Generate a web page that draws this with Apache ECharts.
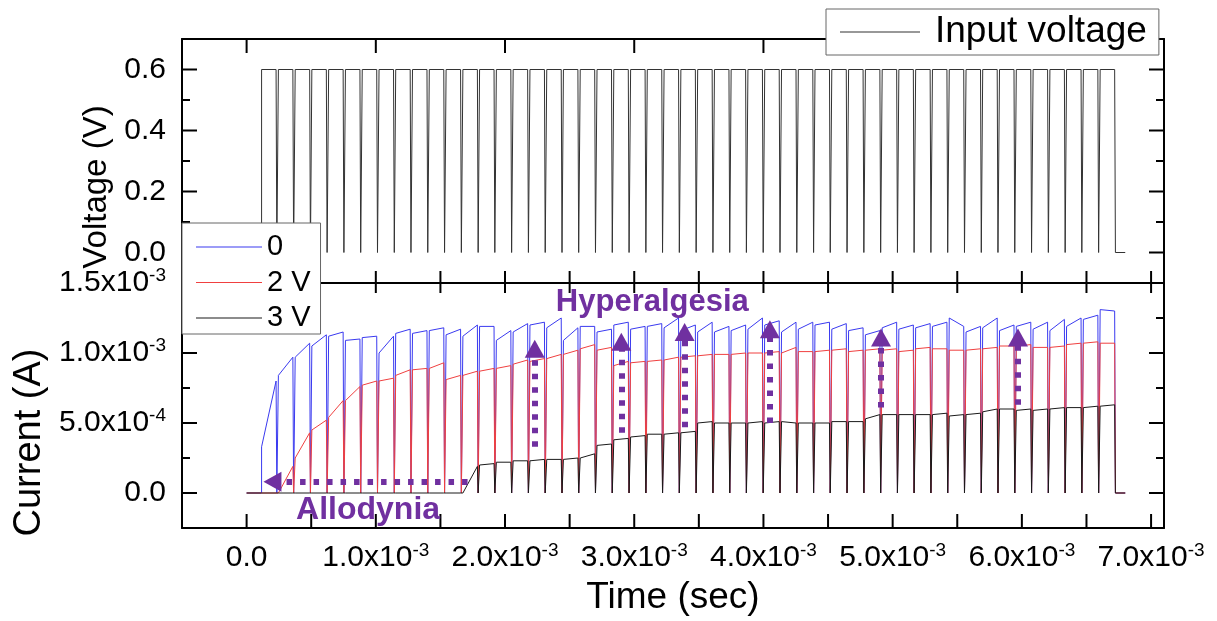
<!DOCTYPE html>
<html>
<head>
<meta charset="utf-8">
<script src="https://cdn.jsdelivr.net/npm/echarts@6/dist/echarts.min.js"></script>
<style>
  html, body { margin: 0; padding: 0; background: #fff; }
  #chart { width: 1217px; height: 621px; }
</style>
</head>
<body>
<div id="chart"></div>
<script>
// ---- Pulse train timing (ms) ----
const pulseOnsetMs = [
  0.116, 0.246, 0.376, 0.505, 0.635, 0.765, 0.895, 1.025, 1.154, 1.284,
  1.414, 1.544, 1.674, 1.803, 1.933, 2.063, 2.193, 2.323, 2.452, 2.582,
  2.712, 2.842, 2.972, 3.101, 3.231, 3.361, 3.491, 3.621, 3.750, 3.880,
  4.010, 4.140, 4.270, 4.399, 4.529, 4.659, 4.789, 4.919, 5.048, 5.178,
  5.308, 5.438, 5.568, 5.697, 5.827, 5.957, 6.087, 6.217, 6.346, 6.476,
  6.606
];
const pulseWidthMs = 0.112;   // high part of each pulse
const fallMs = 0.006;         // falling edge duration
const traceEndMs = 6.80;      // recording end
const inputVoltage = 0.6;     // V, pulse amplitude

// ---- Current level at the start / end of every pulse (mA) ----
const current0Start = [
  0.33, 0.84, 0.97, 1.05, 1.12, 1.09, 1.11, 1.00, 1.14, 1.14,
  1.16, 1.13, 1.12, 1.19, 1.09, 1.15, 1.20, 1.18, 1.09, 1.19,
  1.15, 1.20, 1.17, 1.19, 1.18, 1.16, 1.15, 1.15, 1.16, 1.17,
  1.20, 1.15, 1.17, 1.20, 1.17, 1.16, 1.13, 1.18, 1.17, 1.18,
  1.19, 1.25, 1.15, 1.18, 1.16, 1.19, 1.17, 1.16, 1.19, 1.24,
  1.31
];
const current0End = [
  0.80, 0.97, 1.07, 1.13, 1.15, 1.10, 1.12, 1.12, 1.17, 1.16,
  1.18, 1.17, 1.20, 1.19, 1.16, 1.21, 1.22, 1.25, 1.18, 1.19,
  1.17, 1.22, 1.19, 1.21, 1.25, 1.20, 1.22, 1.19, 1.20, 1.25,
  1.23, 1.22, 1.22, 1.22, 1.21, 1.18, 1.16, 1.22, 1.20, 1.21,
  1.22, 1.19, 1.19, 1.25, 1.20, 1.22, 1.22, 1.24, 1.25, 1.27,
  1.30
];
const current2VStart = [
  0.00, 0.00, 0.25, 0.45, 0.54, 0.66, 0.77, 0.80, 0.84, 0.88,
  0.89, 0.81, 0.84, 0.87, 0.89, 0.92, 0.94, 0.96, 0.99, 1.03,
  1.02, 0.91, 0.93, 0.94, 0.95, 0.97, 0.98, 0.99, 0.99, 1.00,
  1.00, 1.00, 1.01, 1.01, 1.02, 1.01, 1.02, 1.02, 1.01, 1.03,
  1.03, 1.02, 1.02, 1.03, 1.05, 1.05, 1.04, 1.04, 1.06, 1.07,
  1.07
];
const current2VEnd = [
  0.00, 0.19, 0.43, 0.52, 0.66, 0.76, 0.80, 0.82, 0.88, 0.89,
  0.93, 0.84, 0.87, 0.89, 0.91, 0.95, 0.96, 0.99, 1.02, 1.06,
  1.04, 0.94, 0.94, 0.95, 0.97, 0.98, 0.99, 0.99, 1.00, 1.00,
  1.01, 1.04, 1.01, 1.02, 1.03, 1.02, 1.03, 1.03, 1.02, 1.04,
  1.03, 1.02, 1.03, 1.04, 1.05, 1.06, 1.04, 1.05, 1.07, 1.08,
  1.07
];
const current3VStart = [
  0.00, 0.00, 0.00, 0.00, 0.00, 0.00, 0.00, 0.00, 0.00, 0.00,
  0.00, 0.00, 0.00, 0.20, 0.22, 0.23, 0.23, 0.24, 0.24, 0.25,
  0.34, 0.38, 0.40, 0.42, 0.42, 0.43, 0.50, 0.50, 0.50, 0.50,
  0.50, 0.51, 0.50, 0.50, 0.51, 0.51, 0.53, 0.56, 0.56, 0.56,
  0.56, 0.55, 0.56, 0.58, 0.60, 0.59, 0.59, 0.60, 0.61, 0.61,
  0.62
];
const current3VEnd = [
  0.00, 0.00, 0.00, 0.00, 0.00, 0.00, 0.00, 0.00, 0.00, 0.00,
  0.00, 0.00, 0.19, 0.21, 0.22, 0.23, 0.24, 0.24, 0.25, 0.28,
  0.35, 0.39, 0.41, 0.42, 0.43, 0.44, 0.51, 0.50, 0.50, 0.51,
  0.51, 0.50, 0.50, 0.50, 0.51, 0.51, 0.56, 0.56, 0.56, 0.56,
  0.57, 0.56, 0.57, 0.60, 0.60, 0.60, 0.60, 0.61, 0.61, 0.62,
  0.63
];

// ---- Annotations ----
const hyperArrowMs = [2.23, 2.90, 3.39, 4.05, 4.91, 5.97];
const hyperArrowFromMA = [0.33, 0.43, 0.47, 0.50, 0.61, 0.63];
const hyperArrowToMA = [1.03, 1.08, 1.15, 1.17, 1.11, 1.11];
const allodyniaArrowMs = [1.71, 0.20];
const allodyniaArrowMA = 0.08;
const noteText = ['Hyperalgesia', 'Allodynia'];
const noteAtMs = [3.14, 0.94];
const noteAtMA = [1.36, -0.12];

// ---- Axis ticks ----
const timeMajorMs = [0, 1, 2, 3, 4, 5, 6, 7];
const timeAllMs = [0, 0.5, 1, 1.5, 2, 2.5, 3, 3.5, 4, 4.5, 5, 5.5, 6, 6.5, 7];
const voltMajor = [0, 0.2, 0.4, 0.6];
const voltMinor = [0.1, 0.3, 0.5];
const currMajorMA = [0, 0.5, 1.0, 1.5];
const currMinorMA = [0.25, 0.75, 1.25];

const FONT = 'Liberation Sans, Arial, Helvetica, sans-serif';
const PURPLE = '#7030A0';
const ms = v => v * 1e-3;
const mA = v => v * 1e-3;

// Square-pulse trace: level rises at onset, follows start->end, then falls to zero.
function pulseTrace(startLevels, endLevels, toUnit) {
  const pts = [[0, 0]];
  pulseOnsetMs.forEach((t, i) => {
    const a = toUnit(startLevels[i]);
    const b = toUnit(endLevels[i]);
    pts.push([ms(t), 0], [ms(t), a], [ms(t + pulseWidthMs), b], [ms(t + pulseWidthMs + fallMs), 0]);
  });
  pts.push([ms(traceEndMs), 0]);
  return pts;
}

function sciLabel(v) {
  if (Math.abs(v) < 1e-12) return '{m|0.0}';
  const e = Math.floor(Math.log10(Math.abs(v)) + 1e-9);
  const m = (v / Math.pow(10, e)).toFixed(1);
  return '{m|' + m + 'x10}{e|' + e + '}';
}
const richSci = {
  m: { fontSize: 30, lineHeight: 33, color: '#000', fontFamily: FONT },
  e: { fontSize: 19, lineHeight: 19, color: '#000', fontFamily: FONT, verticalAlign: 'top' }
};

const X_MIN = -0.0005, X_MAX = 0.0071;
const V_MIN = -0.1, V_MAX = 0.7;
const I_MIN = -0.00025, I_MAX = 0.0015;

// Plot-box side: border line (plus labels where given).
function frameAxis(grid, position, min, max, extra) {
  return Object.assign({
    type: 'value', gridIndex: grid, position: position, min: min, max: max,
    axisLine: { show: true, onZero: false, lineStyle: { color: '#000', width: 2 } },
    axisTick: { show: false },
    axisLabel: { show: false },
    splitLine: { show: false }
  }, extra || {});
}

const timeMajor = timeMajorMs.map(ms);
const timeAll = timeAllMs.map(ms);
const currMajor = currMajorMA.map(mA);
const currMinor = currMinorMA.map(mA);

const xAxes = [
  frameAxis(0, 'top', X_MIN, X_MAX),
  frameAxis(0, 'bottom', X_MIN, X_MAX),
  frameAxis(1, 'bottom', X_MIN, X_MAX, {
    axisLabel: {
      show: true, customValues: timeMajor, margin: 13,
      formatter: sciLabel, rich: richSci
    },
    name: 'Time (sec)', nameLocation: 'middle', nameGap: 51,
    nameTextStyle: { fontSize: 37, color: '#000', fontFamily: FONT }
  }),
  frameAxis(1, 'top', X_MIN, X_MAX)
];

const yAxes = [
  frameAxis(0, 'left', V_MIN, V_MAX, {
    axisLabel: {
      show: true, customValues: voltMajor, margin: 16,
      formatter: v => v.toFixed(1), fontSize: 30, color: '#000', fontFamily: FONT
    },
    name: 'Voltage (V)', nameLocation: 'middle', nameRotate: 90, nameGap: 64,
    nameTextStyle: { fontSize: 33, color: '#000', fontFamily: FONT, padding: [0, 52, 0, 0] }
  }),
  frameAxis(0, 'right', V_MIN, V_MAX),
  frameAxis(1, 'left', I_MIN, I_MAX, {
    axisLabel: {
      show: true, customValues: currMajor, margin: 16,
      formatter: sciLabel, rich: richSci
    },
    name: 'Current (A)', nameLocation: 'middle', nameRotate: 90, nameGap: 130,
    nameTextStyle: { fontSize: 38, color: '#000', fontFamily: FONT, padding: [0, 74, 0, 0] }
  }),
  frameAxis(1, 'right', I_MIN, I_MAX)
];

// Inward tick marks on every side of a plot box, placed through the axis scales.
// side: 0 bottom, 1 top, 2 left, 3 right
const SIDE = { bottom: 0, top: 1, left: 2, right: 3 };
function tickSeries(xi, yi, xRef, yRef, rows) {
  const data = [];
  rows.forEach(r => r.values.forEach(v => data.push([v, r.len, SIDE[r.side]])));
  return {
    type: 'custom', xAxisIndex: xi, yAxisIndex: yi, z: 3, silent: true,
    clip: false, animation: false, data: data,
    renderItem: function (params, api) {
      const v = api.value(0), len = api.value(1), side = api.value(2);
      const cs = params.coordSys;
      let x1, y1, x2, y2;
      if (side === 0 || side === 1) {
        const x = api.coord([v, yRef])[0];
        const yb = side === 0 ? cs.y + cs.height : cs.y;
        x1 = x2 = x; y1 = yb; y2 = side === 0 ? yb - len : yb + len;
      } else {
        const y = api.coord([xRef, v])[1];
        const xb = side === 2 ? cs.x : cs.x + cs.width;
        y1 = y2 = y; x1 = xb; x2 = side === 2 ? xb + len : xb - len;
      }
      return { type: 'line', shape: { x1: x1, y1: y1, x2: x2, y2: y2 }, style: { stroke: '#000', lineWidth: 2 } };
    }
  };
}

function lineSeries(name, data, color, xi, yi) {
  return {
    name: name, type: 'line', data: data, xAxisIndex: xi, yAxisIndex: yi,
    symbol: 'none', showSymbol: false, animation: false, clip: true,
    lineStyle: { color: color, width: 1 }, itemStyle: { color: color },
    emphasis: { disabled: true }
  };
}

const voltageLevels = pulseOnsetMs.map(() => inputVoltage);

const arrowLines = hyperArrowMs.map((t, i) => [
  { coord: [ms(t), mA(hyperArrowFromMA[i])] },
  { coord: [ms(t), mA(hyperArrowToMA[i])] }
]);
arrowLines.push([
  { coord: [ms(allodyniaArrowMs[0]), mA(allodyniaArrowMA)] },
  { coord: [ms(allodyniaArrowMs[1]), mA(allodyniaArrowMA)] }
]);

const option = {
  animation: false,
  backgroundColor: '#fff',
  grid: [
    { left: 182, right: 53, top: 39, height: 244, outerBoundsMode: 'none' },
    { left: 182, right: 53, top: 283, height: 245, outerBoundsMode: 'none' }
  ],
  xAxis: xAxes,
  yAxis: yAxes,
  legend: [
    {
      data: ['Input voltage'], left: 826, top: 9, orient: 'horizontal',
      icon: 'rect', itemWidth: 80, itemHeight: 1.2, selectedMode: false,
      padding: [3, 12, 3, 14], backgroundColor: '#fff', borderColor: '#666', borderWidth: 1,
      textStyle: { fontSize: 37, lineHeight: 40, color: '#000', fontFamily: FONT, padding: [0, 0, 0, 10] }
    },
    {
      data: ['0', '2 V', '3 V'], left: 182, top: 223, orient: 'vertical',
      icon: 'rect', itemWidth: 66, itemHeight: 1.2, itemGap: 5.5, selectedMode: false,
      padding: [9, 10, 1, 14], backgroundColor: '#fff', borderColor: '#666', borderWidth: 1,
      textStyle: { fontSize: 29, lineHeight: 30, color: '#000', fontFamily: FONT }
    }
  ],
  series: [
    lineSeries('Input voltage', pulseTrace(voltageLevels, voltageLevels, v => v), '#333333', 0, 0),
    lineSeries('0', pulseTrace(current0Start, current0End, mA), '#3a3af0', 2, 2),
    lineSeries('2 V', pulseTrace(current2VStart, current2VEnd, mA), '#f04040', 2, 2),
    lineSeries('3 V', pulseTrace(current3VStart, current3VEnd, mA), '#1a1a1a', 2, 2),
    tickSeries(0, 0, X_MIN, V_MIN, [
      { side: 'top', values: timeMajor, len: 14 },
      { side: 'bottom', values: timeAll, len: 12 },
      { side: 'left', values: voltMajor, len: 15 },
      { side: 'left', values: voltMinor, len: 8 },
      { side: 'right', values: voltMajor, len: 15 },
      { side: 'right', values: voltMinor, len: 8 }
    ]),
    tickSeries(2, 2, X_MIN, I_MIN, [
      { side: 'top', values: timeAll, len: 10 },
      { side: 'bottom', values: timeAll, len: 14 },
      { side: 'left', values: currMajor, len: 15 },
      { side: 'left', values: currMinor, len: 8 },
      { side: 'right', values: currMajor, len: 15 },
      { side: 'right', values: currMinor, len: 8 }
    ]),
    {
      name: 'annotations', type: 'scatter', data: [], xAxisIndex: 2, yAxisIndex: 2,
      z: 5, silent: true, animation: false,
      markLine: {
        silent: true, animation: false,
        symbol: ['none', 'triangle'], symbolSize: [20, 18],
        lineStyle: { color: PURPLE, width: 6, type: [5.5, 8], cap: 'butt', opacity: 1 },
        itemStyle: { color: PURPLE },
        label: { show: false },
        emphasis: { disabled: true },
        data: arrowLines
      },
      markPoint: {
        silent: true, animation: false, symbol: 'circle', symbolSize: 0,
        itemStyle: { color: 'rgba(0,0,0,0)' },
        label: {
          show: true, position: 'inside', color: PURPLE, fontWeight: 'bold',
          fontSize: 31, fontFamily: FONT
        },
        data: noteText.map((txt, i) => ({
          coord: [ms(noteAtMs[i]), mA(noteAtMA[i])],
          label: { formatter: txt, fontSize: i === 0 ? 31 : 32 }
        }))
      }
    }
  ]
};

const chart = echarts.init(document.getElementById('chart'), null, { renderer: 'canvas' });
chart.setOption(option);
</script>
</body>
</html>
